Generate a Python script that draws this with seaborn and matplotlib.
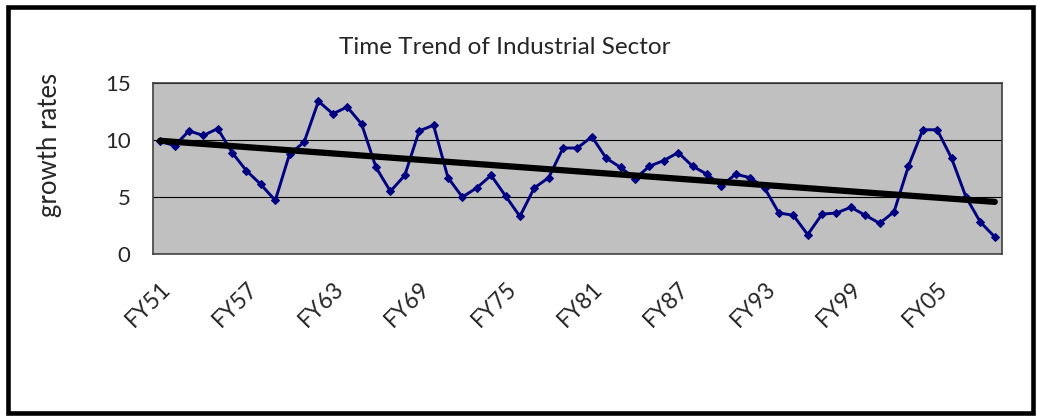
import numpy as np
import pandas as pd
import matplotlib.pyplot as plt
import seaborn as sns
from matplotlib.patches import Rectangle

# fiscal years FY51 .. FY09
years = [f"FY{y % 100:02d}" for y in range(1951, 2010)]

growth = [9.9, 9.5, 10.8, 10.4, 11.0, 8.9, 7.3, 6.1, 4.7, 8.8,
          9.8, 13.4, 12.3, 12.9, 11.4, 7.6, 5.5, 6.9, 10.8, 11.3,
          6.7, 5.0, 5.8, 6.9, 5.1, 3.3, 5.8, 6.7, 9.3, 9.3,
          10.3, 8.4, 7.6, 6.6, 7.7, 8.2, 8.9, 7.7, 7.0, 6.0,
          7.0, 6.7, 5.8, 3.6, 3.4, 1.7, 3.5, 3.6, 4.1, 3.4,
          2.7, 3.7, 7.7, 10.9, 10.9, 8.4, 5.0, 2.8, 1.5]

y_ticks = [0, 5, 10, 15]

df = pd.DataFrame({"idx": np.arange(len(years)), "year": years, "growth": growth})

sns.set_style("white")
plt.rcParams['font.family'] = ['Lato', 'DejaVu Sans']

fig = plt.figure(figsize=(10.37, 4.16), dpi=100)
ax = fig.add_axes([0.1475, 0.3894, 0.8187, 0.411])
ax.set_facecolor("#C0C0C0")

for v in y_ticks[1:]:
    ax.axhline(v, color="black", lw=0.8, zorder=1)

sns.lineplot(data=df, x="idx", y="growth", ax=ax, color="#000080", lw=2.1,
             marker="D", markersize=4, markeredgecolor="#000080", zorder=3)
sns.regplot(data=df, x="idx", y="growth", ax=ax, scatter=False, ci=None,
            line_kws={"color": "black", "lw": 4.5, "solid_capstyle": "round", "zorder": 4})

ax.set_xlim(-0.5, len(years) - 0.5)
ax.set_ylim(0, 15)
ax.set_yticks(y_ticks)
ax.set_yticklabels([str(v) for v in y_ticks], fontsize=16)
ax.tick_params(axis="y", length=5, width=1, color="#404040", direction="out", pad=11)

# category boundary ticks, labels every 6 years
ax.set_xticks(np.arange(len(years) + 1) - 0.5)
ax.set_xticklabels([])
ax.tick_params(axis="x", which="major", length=5, width=1, color="#404040", direction="out")
lab_idx = np.arange(0, len(years), 6)
ax.set_xticks(lab_idx, minor=True)
ax.set_xticklabels([years[i] for i in lab_idx], minor=True, rotation=45,
                   ha="right", rotation_mode="anchor", fontsize=16.5)
ax.tick_params(axis="x", which="minor", length=0, pad=17)

ax.set_xlabel("")
ax.set_ylabel("")
fig.text(50 / 1037, 1 - 145 / 416, "growth rates", rotation=90, fontsize=18.5,
         ha="center", va="center")
fig.text(505 / 1037, 1 - 48 / 416, "Time Trend of Industrial Sector", fontsize=17.5,
         ha="center", va="center")

for side in ["left", "bottom", "top", "right"]:
    ax.spines[side].set_visible(True)
    ax.spines[side].set_color("#404040")
    ax.spines[side].set_linewidth(1.2)

fig.patches.append(Rectangle((7.5 / 1037, 3 / 416), 1025.5 / 1037, 406 / 416,
                             transform=fig.transFigure, fill=False,
                             edgecolor="black", lw=3.3))

fig.savefig("out.png", dpi=100)
